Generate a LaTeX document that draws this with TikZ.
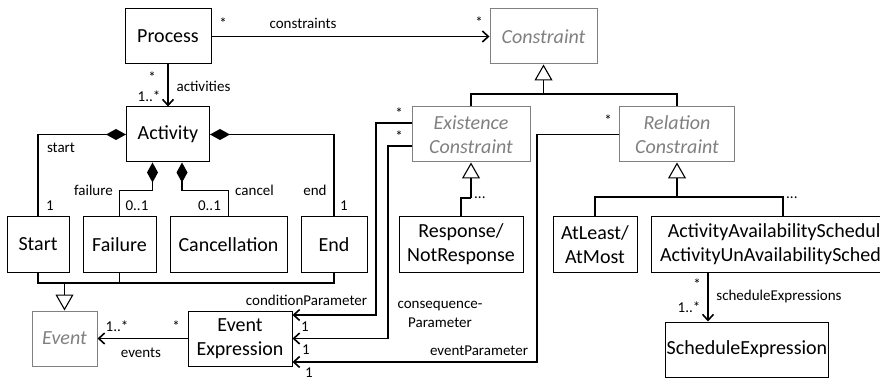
\documentclass[tikz,border=0pt]{standalone}
\usepackage{fontspec}
\setmainfont{Carlito}
\usetikzlibrary{arrows.meta}
\begin{document}
\begin{tikzpicture}[x=1pt,y=-1pt,
  box/.style={draw, line width=1pt, fill=white, inner sep=1pt, font=\fontsize{20}{24}\selectfont, align=center, minimum height=55pt},
  abox/.style={box, draw=gray, text=gray, font=\fontsize{20}{24}\selectfont\itshape},
  conn/.style={line width=1.6pt},
  nav/.style={conn, -{Straight Barb[length=6pt,width=11pt,line width=1.6pt]}},
  comp/.style={conn, {Diamond[length=20pt,width=11pt]}-},
  gen/.style={conn, -{Triangle[open,length=16pt,width=18pt,line width=1.1pt,fill=white]}},
  lbl/.style={font=\fontsize{15}{18}\selectfont, inner sep=0pt, anchor=base},
]
\useasboundingbox (0,0) rectangle (880,379);
\clip (0,0) rectangle (880,379);

% classes
\node[box, minimum width=86pt] (process) at (168,36.5) {Process};
\node[abox, minimum width=107pt] (constraint) at (543.5,36.5) {Constraint};
\node[box, minimum width=83pt] (activity) at (168,134.5) {Activity};
\node[abox, minimum width=118pt] (existence) at (471,134.5) {Existence\\Constraint};
\node[abox, minimum width=115pt] (relation) at (677,134.5) {Relation\\Constraint};
\node[box, minimum width=62pt] (start) at (38,244.5) {Start};
\node[box, minimum width=73pt] (failure) at (119.5,244.5) {Failure};
\node[box, minimum width=117pt] (cancellation) at (228.5,244.5) {Cancellation};
\node[box, minimum width=66pt] (end) at (334,244.5) {End};
\node[box, minimum width=124pt] (response) at (461,244.5) {Response/\\NotResponse};
\node[box, minimum width=84pt] (atleast) at (595,244.5) {AtLeast/\\AtMost};
\node[box, minimum width=264pt] (aas) at (783,244.5) {ActivityAvailabilitySchedule/\\ActivityUnAvailabilitySchedule};
\node[box, minimum width=140pt] (sched) at (747,349.5) {ScheduleExpression};
\node[abox, minimum width=65pt] (event) at (64.5,338.5) {Event};
\node[box, minimum width=104pt] (evexpr) at (240,338.5) {Event\\Expression};

% junction points
\coordinate (ej) at (64.5,283);
\coordinate (cj) at (543.5,94);
\coordinate (xj) at (471,198);
\coordinate (rj) at (677,197);

% associations
\draw[nav] (process) -- (activity);
\draw[nav] (process) -- (constraint);
\draw[nav] ([xshift=-75pt]aas.south) -- ([xshift=-39pt]sched.north);
\draw[nav] (evexpr.west) -- (event.east);
\draw[nav] ([yshift=11.5pt]existence.west) -| (376,315) -- ([yshift=23.5pt]evexpr.east);
\draw[nav] ([yshift=-11.5pt]existence.west) -| (388,338.5) -- (evexpr.east);
\draw[nav] (relation.west) -| (537,362) -- ([yshift=-23.5pt]evexpr.east);

% compositions
\draw[comp] (activity.west) -| (start.north);
\draw[comp] ([xshift=-15.5pt]activity.south) -- ++(0,28) -| (failure.north);
\draw[comp] ([xshift=14pt]activity.south) -- ++(0,28) -| (cancellation.north);
\draw[comp] (activity.east) -| (end.north);

% generalizations
\draw[conn] (start.south) |- (ej) -| (end.south);
\draw[conn] (failure.south) -- (failure.south |- ej);
\draw[gen] (ej) -- (event.north);
\draw[conn] (existence.north) |- (cj) -| (relation.north);
\draw[gen] (cj) -- (constraint.south);
\draw[gen] (xj) -- (existence.south);
\draw[conn] (xj) -| (response.north);
\draw[gen] (rj) -- (relation.south);
\draw[conn] (atleast.north) |- (rj) -| (aas.north);
\node[lbl, anchor=base west] (dots1) at (474,199) {...};
\node[lbl, anchor=base west] (dots2) at (786,199) {...};

% labels
\node[lbl] (l1) at (152,83) {*};
\node[lbl] (l2) at (149,102) {1..*};
\node[lbl] (l3) at (203.5,92) {activities};
\node[lbl] (l4) at (223,29) {*};
\node[lbl] (l5) at (303,29) {constraints};
\node[lbl] (l6) at (479,28) {*};
\node[lbl] (l7) at (61,153) {start};
\node[lbl] (l8) at (50,211) {1};
\node[lbl] (l9) at (93.5,196) {failure};
\node[lbl] (l10) at (137,211) {0..1};
\node[lbl] (l11) at (209.5,211) {0..1};
\node[lbl] (l12) at (254.5,196) {cancel};
\node[lbl] (l13) at (315,196) {end};
\node[lbl] (l14) at (344,211) {1};
\node[lbl] (l15) at (399,119) {*};
\node[lbl] (l16) at (399,142) {*};
\node[lbl] (l17) at (608,126) {*};
\node[lbl] (l18) at (306.5,305) {conditionParameter};
\node[lbl] (l19) at (305,331) {1};
\node[lbl] (l20) at (306,354) {1};
\node[lbl] (l21) at (309,377) {1};
\node[lbl] (l22) at (440,308) {consequence-};
\node[lbl] (l23) at (440,327) {Parameter};
\node[lbl] (l24) at (479,355) {eventParameter};
\node[lbl] (l25) at (117,331) {1..*};
\node[lbl] (l26) at (176,331) {*};
\node[lbl] (l27) at (141,357) {events};
\node[lbl] (l28) at (779,300) {scheduleExpressions};
\node[lbl] (l29) at (697,289) {*};
\node[lbl] (l30) at (689,312) {1..*};
\end{tikzpicture}
\end{document}
